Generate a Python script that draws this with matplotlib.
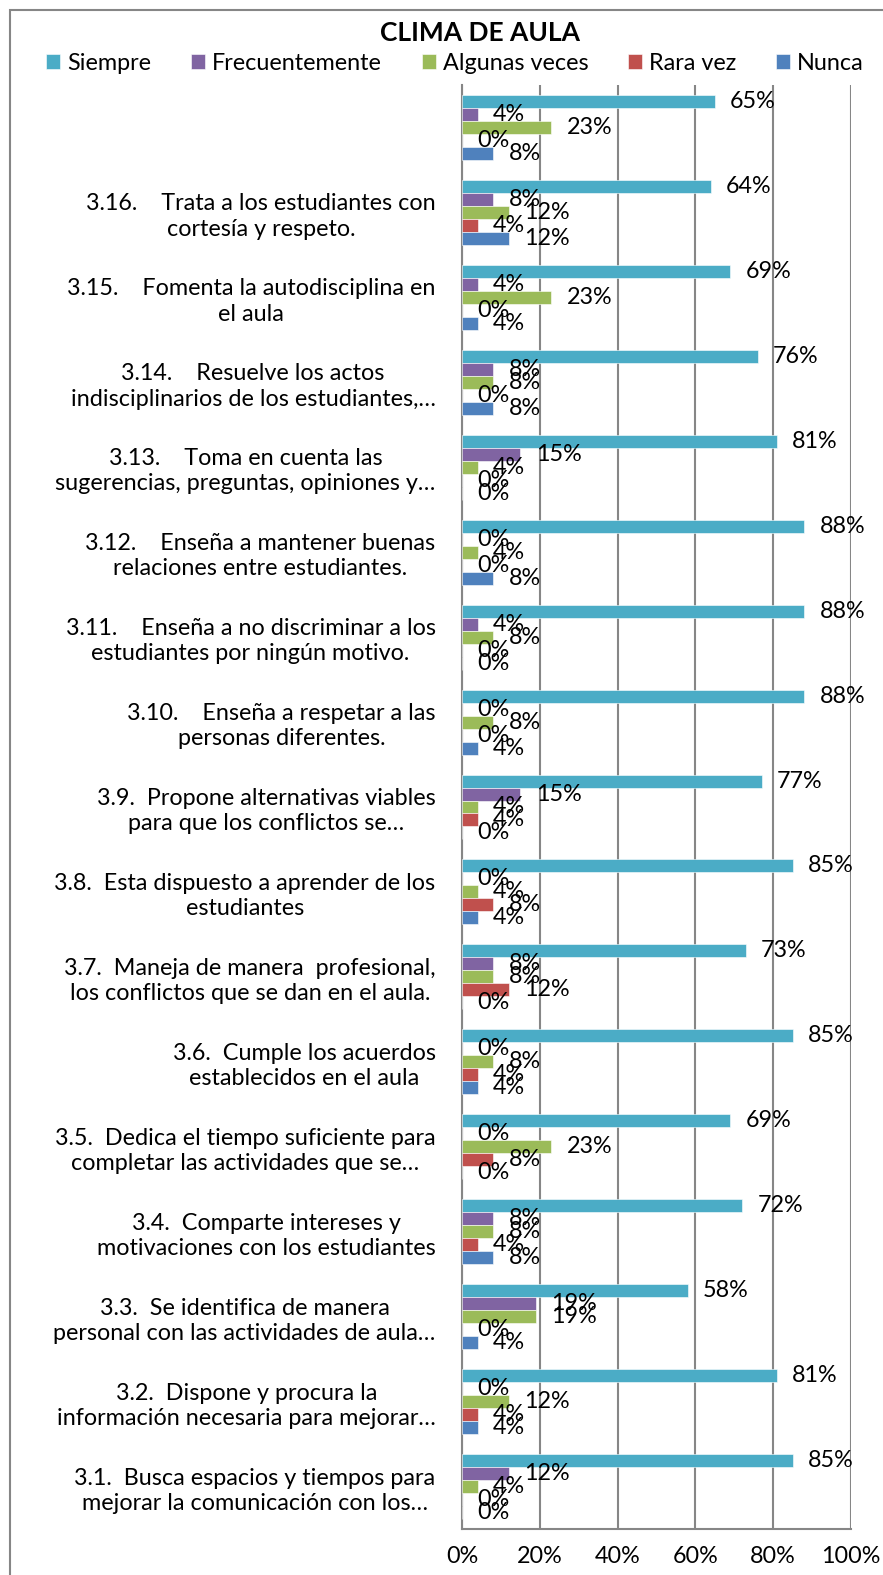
#importing package
import numpy as np
import matplotlib.pyplot as plt
from matplotlib.patches import Rectangle

plt.rcParams['font.family'] = ['Lato', 'DejaVu Sans']

#declaring data (top group first)
items = ["",
         "3.16.    Trata a los estudiantes con\ncortesía y respeto.",
         "3.15.    Fomenta la autodisciplina en\nel aula",
         "3.14.    Resuelve los actos\nindisciplinarios de los estudiantes,…",
         "3.13.    Toma en cuenta las\nsugerencias, preguntas, opiniones y…",
         "3.12.    Enseña a mantener buenas\nrelaciones entre estudiantes.",
         "3.11.    Enseña a no discriminar a los\nestudiantes por ningún motivo.",
         "3.10.    Enseña a respetar a las\npersonas diferentes.",
         "3.9.  Propone alternativas viables\npara que los conflictos se…",
         "3.8.  Esta dispuesto a aprender de los\nestudiantes",
         "3.7.  Maneja de manera  profesional,\nlos conflictos que se dan en el aula.",
         "3.6.  Cumple los acuerdos\nestablecidos en el aula",
         "3.5.  Dedica el tiempo suficiente para\ncompletar las actividades que se…",
         "3.4.  Comparte intereses y\nmotivaciones con los estudiantes",
         "3.3.  Se identifica de manera\npersonal con las actividades de aula…",
         "3.2.  Dispone y procura la\ninformación necesaria para mejorar…",
         "3.1.  Busca espacios y tiempos para\nmejorar la comunicación con los…"]

siempre = [65, 64, 69, 76, 81, 88, 88, 88, 77, 85, 73, 85, 69, 72, 58, 81, 85]
frecuentemente = [4, 8, 4, 8, 15, 0, 4, 0, 15, 0, 8, 0, 0, 8, 19, 0, 12]
algunas = [23, 12, 23, 8, 4, 4, 8, 8, 4, 4, 8, 8, 23, 8, 19, 12, 4]
rara = [0, 4, 0, 0, 0, 0, 0, 0, 4, 8, 12, 4, 8, 4, 0, 4, 0]
nunca = [8, 12, 4, 8, 0, 8, 0, 4, 0, 4, 0, 4, 0, 8, 4, 4, 0]

series = [("Siempre", siempre, "#4BACC6"),
          ("Frecuentemente", frecuentemente, "#8064A2"),
          ("Algunas veces", algunas, "#9BBB59"),
          ("Rara vez", rara, "#C0504D"),
          ("Nunca", nunca, "#4F81BD")]
xticks = [0, 20, 40, 60, 80, 100]

fs = 16.8

#plotting
fig = plt.figure(figsize=(8.83, 15.75), dpi=100)
fig.patches.append(Rectangle((10/883, -0.1), 1.2, 1 - 10/1575 + 0.1,
                             transform=fig.transFigure, fill=False,
                             edgecolor='#868686', linewidth=1.5))
ax = fig.add_axes([462/883, 1 - 1529/1575, 389/883, (1529 - 85)/1575])

y = np.arange(len(items))
h = 0.153
for i, (name, vals, col) in enumerate(series):
    bars = ax.barh(y + (i - 2) * h, vals, height=h, color=col,
                   edgecolor='white', linewidth=0.4, label=name, zorder=3)
    ax.bar_label(bars, labels=[f"{v}%" for v in vals], padding=11,
                 fontsize=fs, color='black')

ax.set_xlim(0, 100)
ax.set_ylim(len(items) - 0.5, -0.5)
ax.set_xticks(xticks)
ax.set_xticklabels([f"{t}%" for t in xticks], fontsize=fs)
ax.set_yticks(y)
ax.set_yticklabels(items, fontsize=fs, ha='right', multialignment='center',
                   linespacing=1.25)
ax.tick_params(axis='both', length=0)
ax.tick_params(axis='y', pad=19)
ax.tick_params(axis='x', pad=12)
ax.xaxis.grid(True, color='#868686', linewidth=1.5, zorder=0)
for s in ['top', 'right']:
    ax.spines[s].set_visible(False)
for s in ['left', 'bottom']:
    ax.spines[s].set_color('#868686')
    ax.spines[s].set_linewidth(1.5)

fig.text(480/883, 1 - 33/1575, "CLIMA DE AULA", ha='center', va='center',
         fontsize=19, fontweight='bold')
fig.legend(loc='center', bbox_to_anchor=(455/883, 1 - 63/1575), ncol=5,
           frameon=False, fontsize=fs, handlelength=0.6, handleheight=0.6,
           handletextpad=0.3, columnspacing=1.7, borderpad=0)

fig.savefig('out.png', dpi=100)
